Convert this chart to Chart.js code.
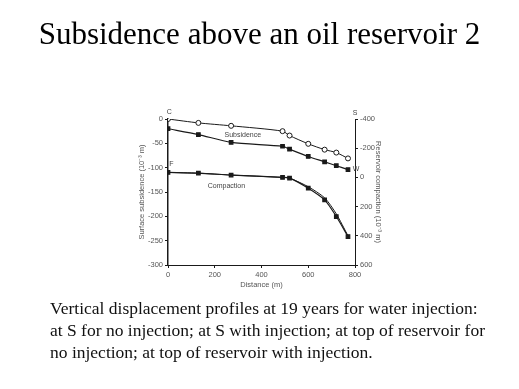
<!DOCTYPE html>
<html>
<head>
<meta charset="utf-8">
<script src="https://cdn.jsdelivr.net/npm/chart.js@4.4.0/dist/chart.umd.min.js"></script>
<style>
  body { margin: 0; background: #fff; }
  #wrap { position: relative; width: 519px; height: 389px; overflow: hidden; }
  #chart { position: absolute; left: 0; top: 0; }
  #title { position: absolute; left: 0; top: 17px; width: 519px; text-align: center;
           font-family: "Liberation Serif", serif; font-size: 31px; line-height: 34px; color: #000; }
  #caption { position: absolute; left: 50px; top: 297px; width: 469px; white-space: nowrap;
             font-family: "Liberation Serif", serif; font-size: 17.5px; line-height: 22px; color: #111; }
</style>
</head>
<body>
<div id="wrap">
  <canvas id="chart" width="519" height="389"></canvas>
  <div id="title">Subsidence above an oil reservoir 2</div>
  <div id="caption">Vertical displacement profiles at 19 years for water injection:<br>
at S for no injection; at S with injection; at top of reservoir for<br>
no injection; at top of reservoir with injection.</div>
</div>
<script>
// distance along the profile (m)
let distance = [0, 130, 270, 490, 520, 600, 670, 720, 770];

// surface subsidence (10^-3 m), left axis
let subsidenceS = [0, -8, -14, -25, -34, -51, -63, -69, -81];
let subsidenceW = [-20, -32, -48, -56, -62, -77, -88, -96, -104];

// reservoir compaction (10^-3 m), right axis
let compactionNo = [-34, -29, -16, 0, 5, 74, 154, 268, 405];
let compactionInj = [-34, -29, -16, 0, 5, 64, 140, 250, 400];

let xTicks = [0, 200, 400, 600, 800];

function pts(ys) {
    return ys.map((y, i) => ({ x: distance[i], y: y }));
}

const ink = '#1a1a1a';
const tickFont = { family: 'Liberation Sans, Arial, sans-serif', size: 7.5 };

// small text labels inside the plot
const notes = {
    id: 'notes',
    afterDatasetsDraw(chart) {
        const ctx = chart.ctx;
        const x = chart.scales.x, y = chart.scales.y;
        ctx.save();
        ctx.fillStyle = '#444';
        ctx.font = '7px Liberation Sans, Arial, sans-serif';
        ctx.textAlign = 'center';
        ctx.textBaseline = 'middle';
        ctx.fillText('Subsidence', x.getPixelForValue(320), y.getPixelForValue(-34));
        ctx.fillText('Compaction', x.getPixelForValue(250), y.getPixelForValue(-138));
        ctx.fillText('C', x.getPixelForValue(5), y.getPixelForValue(14));
        ctx.fillText('F', x.getPixelForValue(14), y.getPixelForValue(-92));
        ctx.fillText('S', x.getPixelForValue(800), y.getPixelForValue(12));
        ctx.fillText('W', x.getPixelForValue(805), y.getPixelForValue(-102));
        ctx.restore();
    }
};

new Chart(document.getElementById('chart').getContext('2d'), {
    type: 'line',
    data: {
        datasets: [
            {
                data: pts(subsidenceS),
                yAxisID: 'y',
                borderColor: ink, borderWidth: 1,
                pointStyle: 'circle', pointRadius: 2.5,
                pointBackgroundColor: '#fff', pointBorderColor: ink, pointBorderWidth: 1,
                tension: 0.25
            },
            {
                data: pts(subsidenceW),
                yAxisID: 'y',
                borderColor: ink, borderWidth: 1.2,
                pointStyle: 'rect', pointRadius: 2.5,
                pointBackgroundColor: ink, pointBorderColor: ink,
                tension: 0.25
            },
            {
                data: pts(compactionNo),
                yAxisID: 'y2',
                borderColor: ink, borderWidth: 1.2,
                pointStyle: 'rect', pointRadius: 2.5,
                pointBackgroundColor: ink, pointBorderColor: ink,
                tension: 0.25
            },
            {
                data: pts(compactionInj),
                yAxisID: 'y2',
                borderColor: ink, borderWidth: 1,
                pointRadius: 0,
                tension: 0.25
            }
        ]
    },
    options: {
        responsive: false,
        animation: false,
        layout: { autoPadding: false, padding: { left: 135, right: 134, top: 119, bottom: 100 } },
        plugins: { legend: { display: false }, tooltip: { enabled: false } },
        scales: {
            x: {
                type: 'linear', min: 0, max: 800,
                afterFit: s => { s.height = 24; },
                afterBuildTicks: s => { s.ticks = xTicks.map(v => ({ value: v })); },
                grid: { drawOnChartArea: false, tickLength: 3, color: ink },
                border: { color: ink, width: 1, dash: [6, 4] },
                ticks: { font: tickFont, color: '#555', padding: 2, maxRotation: 0 },
                title: { display: true, text: 'Distance (m)', font: tickFont, color: '#555', padding: 0 }
            },
            y: {
                position: 'left', min: -300, max: 0,
                afterFit: s => { s.width = 33; },
                grid: { drawOnChartArea: false, tickLength: 3, color: ink },
                border: { color: ink, width: 1.5 },
                ticks: { stepSize: 50, font: tickFont, color: '#555', padding: 2 },
                title: { display: true, text: 'Surface subsidence (10\u207B\u00B3 m)', font: tickFont, color: '#555', padding: 2 }
            },
            y2: {
                position: 'right', min: -400, max: 600, reverse: true,
                afterFit: s => { s.width = 30; },
                grid: { drawOnChartArea: false, tickLength: 3, color: ink },
                border: { color: ink, width: 1, dash: [6, 3, 1, 3] },
                ticks: { stepSize: 200, font: tickFont, color: '#555', padding: 2 },
                title: { display: true, text: 'Reservoir compaction (10\u207B\u00B3 m)', font: tickFont, color: '#555', padding: 2 }
            }
        }
    },
    plugins: [notes]
});
</script>
</body>
</html>
